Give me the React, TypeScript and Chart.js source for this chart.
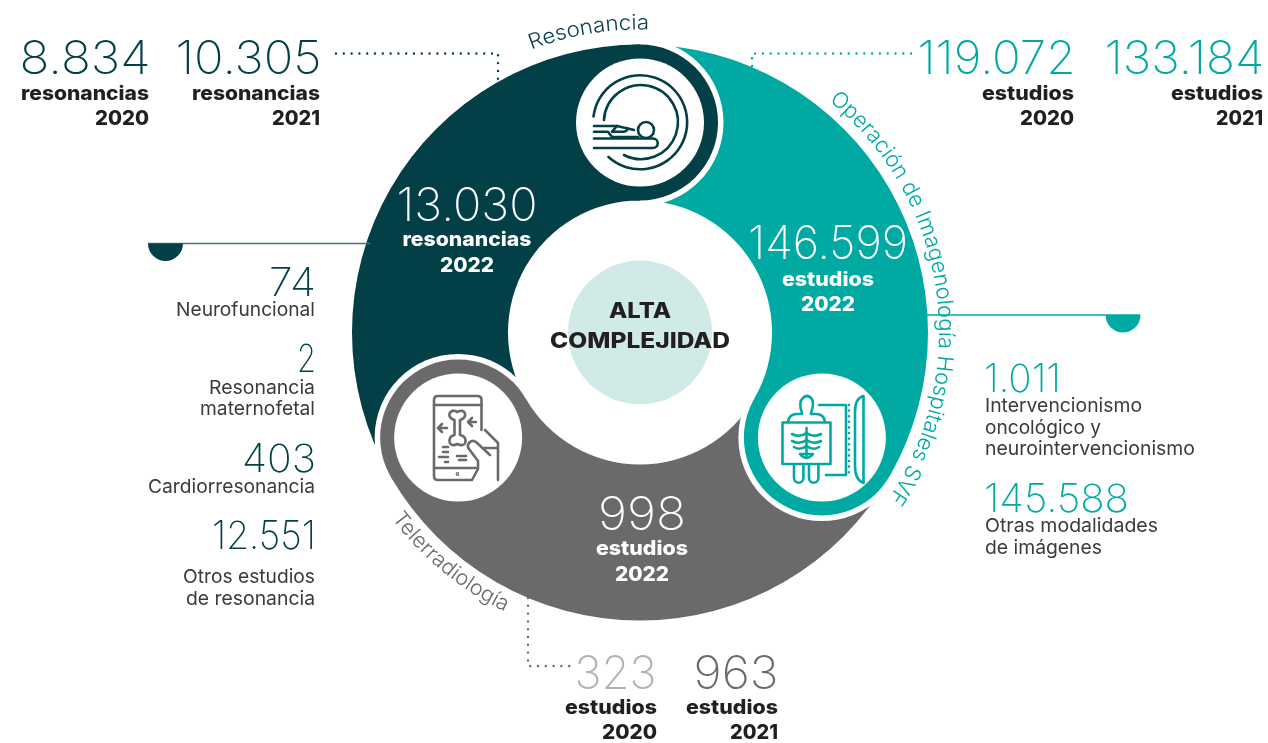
import React, { useEffect, useRef } from "react";
import { Chart, registerables } from "chart.js";

Chart.register(...registerables);

const segmentLabels = ["Resonancia", "Operación de Imagenología Hospitales SVF", "Telerradiología"];
const segmentShare = [1, 1, 1];
const centerTitle = ["ALTA", "COMPLEJIDAD"];
const years = ["2020", "2021", "2022"];
const resonanceTotals = [8834, 10305, 13030];
const imagingTotals = [119072, 133184, 146599];
const teleTotals = [323, 963, 998];
const resonanceNames = ["Neurofuncional", "Resonancia|maternofetal", "Cardiorresonancia", "Otros estudios|de resonancia"];
const resonanceValues = [74, 2, 403, 12551];
const imagingNames = ["Intervencionismo|oncológico y|neurointervencionismo", "Otras modalidades|de imágenes"];
const imagingValues = [1011, 145588];
const unitResonance = "resonancias";
const unitStudies = "estudios";

const DARK = "#023f47";
const TEAL = "#00aaa3";
const GRAY = "#6b696c";
const LIGHTGRAY = "#b2b0b2";
const PALE = "#d0eae8";
const INK = "#231f20";
const BODY = "#3c3a3b";
const FONT = "Inter, 'Noto Sans', sans-serif";

const fmt = (n: number) => String(n).replace(/\B(?=(\d{3})+$)/g, ".");

function polar(r: number, deg: number) {
  const a = (deg * Math.PI) / 180;
  return { x: 640 + r * Math.sin(a), y: 332.5 - r * Math.cos(a) };
}
function arcPath(r: number, from: number, to: number) {
  const p = polar(r, from);
  const q = polar(r, to);
  return `M${p.x} ${p.y} A${r} ${r} 0 0 ${to > from ? 1 : 0} ${q.x} ${q.y}`;
}

const headsPlugin = {
  id: "heads",
  afterDatasetsDraw(chart: any) {
    const ctx = chart.ctx as CanvasRenderingContext2D;
    const arcs = chart.getDatasetMeta(0).data as any[];
    const colors = chart.data.datasets[0].backgroundColor as string[];
    const { x, y, innerRadius, outerRadius } = arcs[0];
    const hr = (outerRadius - innerRadius) / 2;
    const mid = (outerRadius + innerRadius) / 2;
    ctx.save();
    ctx.fillStyle = PALE;
    ctx.beginPath();
    ctx.arc(x, y, 72, 0, Math.PI * 2);
    ctx.fill();
    arcs.forEach((a, i) => {
      const end = a.endAngle;
      const hx = x + mid * Math.cos(end);
      const hy = y + mid * Math.sin(end);
      ctx.save();
      ctx.beginPath();
      ctx.moveTo(x, y);
      ctx.arc(x, y, outerRadius + 2, end, end + (Math.PI * 2) / 3);
      ctx.closePath();
      ctx.clip();
      ctx.fillStyle = "#ffffff";
      ctx.beginPath();
      ctx.arc(hx, hy, hr + 5.5, 0, Math.PI * 2);
      ctx.fill();
      ctx.restore();
      ctx.fillStyle = colors[i];
      ctx.beginPath();
      ctx.arc(hx, hy, hr, 0, Math.PI * 2);
      ctx.fill();
      ctx.fillStyle = "#ffffff";
      ctx.beginPath();
      ctx.arc(hx, hy, hr - 14, 0, Math.PI * 2);
      ctx.fill();
    });
    ctx.restore();
  },
};

type TProps = { x: number; y: number; s: number; w?: number; c: string; wt?: number; a?: "start" | "middle" | "end"; children: string };
function T({ x, y, s, w, c, wt = 400, a = "end", children }: TProps) {
  return (
    <text x={x} y={y} fontSize={s} fill={c} fontWeight={wt} textAnchor={a} fontFamily={FONT}
      {...(w ? { textLength: w, lengthAdjust: "spacingAndGlyphs" } : {})}>
      {children}
    </text>
  );
}

function Curved({ id, d, s, c, w, children }: { id: string; d: string; s: number; c: string; w: number; children: string }) {
  return (
    <>
      <path id={id} d={d} fill="none" />
      <text fontSize={s} fill={c} fontWeight={300} fontFamily={FONT} textLength={w} lengthAdjust="spacingAndGlyphs">
        <textPath href={`#${id}`} textLength={w} lengthAdjust="spacingAndGlyphs">{children}</textPath>
      </text>
    </>
  );
}

function Column({ x, num, unit, year, color, nw, uw, yw, bw = 0, nb = 74 }: any) {
  return (
    <>
      <T x={x + 1.5} y={nb + bw} s={46} w={nw} c={color} wt={200}>{num}</T>
      <T x={x} y={99.5 + bw} s={20} w={uw} c={INK} wt={800}>{unit}</T>
      <T x={x} y={125 + bw} s={20} w={yw} c={INK} wt={800}>{year}</T>
    </>
  );
}

function Icons() {
  const sw = 2.6;
  return (
    <>
      <g fill="none" stroke={DARK} strokeWidth={sw} strokeLinecap="round" strokeLinejoin="round">
        <path d="M593.5 116.5 A47 47 0 1 1 608.5 157" />
        <path d="M604 120 A37 37 0 1 1 624 155" />
        <circle cx={646} cy={130} r={8} />
        <path d="M594 126 H617 L634 130" />
        <path d="M594 131.7 H608 L612 137 H638" />
        <path d="M617 126 L612 131.7 H624 Q628 131 627 128" />
        <path d="M594 138.5 H653 A4.7 4.7 0 0 1 653 148 H594" />
      </g>
      <g fill="none" stroke={TEAL} strokeWidth={sw} strokeLinecap="round" strokeLinejoin="round">
        <path d="M802 413 Q798 402 803 398 Q807 394 811 398 Q815 402 811 413" />
        <path d="M788 422 Q789 414 797 414 H802 M811 414 H816 Q824 414 825 422" />
        <rect x={782.5} y={422.5} width={48} height={41.5} />
        <path d="M806.5 428 V456" />
        <path d="M792 434 Q800 438 806.5 433 Q813 438 821 434" />
        <path d="M792 441 Q800 445 806.5 440 Q813 445 821 441" />
        <path d="M794 447 Q800 451 806.5 446 Q813 451 819 447" />
        <path d="M800 454 Q806.5 462 813 454 Z" />
        <path d="M794 465 V478 a4.7 4.7 0 0 0 9.4 0 V465 M809 465 V478 a4.7 4.7 0 0 0 9.4 0 V465" />
        <path d="M819 405 H846 V475 H826" />
        <path d="M849 405 V476" strokeDasharray="0 5.6" />
        <path d="M863.5 396 Q855 398 855 412 V466 Q855 480 863.5 483 Z" />
      </g>
      <g fill="none" stroke={GRAY} strokeWidth={sw} strokeLinecap="round" strokeLinejoin="round">
        <path d="M481.5 430 V400 Q481.5 396 477.5 396 H438 Q434 396 434 400 V476 Q434 480 438 480 H472" />
        <path d="M434 405 H481.5 M434 468 H476" />
        <path d="M485 430 L498 443 V480" />
        <path d="M490 455 L476 442 a5 5 0 0 0 -7 7 L478 461 V469 L472 480" />
        <path d="M484 448 H497" />
        <path d="M454.5 420 V435 Q449 436 449.5 442 Q451 447 457.3 444 Q464 447 465.5 442 Q466 436 460 435 V420 Q466 418 465 413.5 Q463 409 457.3 412 Q452 409 449.5 413.5 Q448.5 418 454.5 420 Z" />
        <path d="M447 428 H438 M442 424 L438 428 L442 432" />
        <path d="M476 422 H468 M472 418 L468 422 L472 426" />
        <path d="M443 447 H448 M443 452 H448 M439 457 H448 M445 462 H448 M457 456 H466 M459 460 H466" />
        <circle cx={457.5} cy={474} r={0.6} />
      </g>
    </>
  );
}

export default function App() {
  const ref = useRef<HTMLCanvasElement>(null);
  useEffect(() => {
    const chart = new Chart(ref.current!, {
      type: "doughnut",
      data: {
        labels: segmentLabels,
        datasets: [{ data: segmentShare, backgroundColor: [DARK, TEAL, GRAY], borderWidth: 0, hoverOffset: 0 }],
      },
      options: {
        responsive: false,
        animation: false,
        rotation: 240,
        cutout: 132,
        radius: 288,
        layout: { padding: { left: 352, right: 340, top: 44.5, bottom: 122.5 } },
        plugins: { legend: { display: false }, tooltip: { enabled: false } },
      },
      plugins: [headsPlugin],
    } as any);
    return () => chart.destroy();
  }, []);

  const resY = [[295.5, [315.5]], [372, [393.5, 414.5]], [472, [492.5]], [549, [582.5, 604.5]]] as [number, number[]][];
  const resW = [47, 19, 74, 104];
  const resNameW = [[139], [106, 115], [167], [132, 129]];
  const imgY = [[392, [411.5, 433.5, 454.5]], [511.5, [531.5, 553.5]]] as [number, number[]][];
  const imgW = [75, 143];
  const imgNameW = [[157, 116, 210], [173, 117]];

  return (
    <div style={{ position: "fixed", left: 0, top: 0, width: 1268, height: 743, background: "#fff" }}>
      <canvas ref={ref} width={1268} height={743} style={{ position: "absolute", left: 0, top: 0 }} />
      <svg width={1268} height={743} style={{ position: "absolute", left: 0, top: 0 }}>
        <Icons />
        <path d="M336 53.5 H498 V80" fill="none" stroke={DARK} strokeWidth={2.4} strokeLinecap="round" strokeDasharray="0 7.8" />
        <path d="M752 66 V53.5 H916" fill="none" stroke={TEAL} strokeWidth={2.4} strokeLinecap="round" strokeDasharray="0 7.8" />
        <path d="M528 598 V666 H570" fill="none" stroke={GRAY} strokeWidth={2.4} strokeLinecap="round" strokeDasharray="0 7.8" />
        <path d="M148 243.5 H370" stroke="#4d7379" strokeWidth={1.6} fill="none" />
        <path d="M148 243.5 A17.5 17.5 0 0 0 183 243.5 Z" fill={DARK} />
        <path d="M927 315 H1140" stroke={TEAL} strokeWidth={1.4} fill="none" />
        <path d="M1105.5 315 A17.5 17.5 0 0 0 1140.5 315 Z" fill={TEAL} />

        <Column x={149} num={fmt(resonanceTotals[0])} unit={unitResonance} year={years[0]} color={DARK} nw={131} uw={128} yw={54} />
        <Column x={320} num={fmt(resonanceTotals[1])} unit={unitResonance} year={years[1]} color={DARK} nw={146} uw={128} yw={48} />
        <Column x={1074} num={fmt(imagingTotals[0])} unit={unitStudies} year={years[0]} color={TEAL} nw={158} uw={92} yw={54} />
        <Column x={1263} num={fmt(imagingTotals[1])} unit={unitStudies} year={years[1]} color={TEAL} nw={160} uw={92} yw={47} />
        <Column x={655} num={fmt(teleTotals[0])} unit="" year="" color={LIGHTGRAY} nw={82} uw={0} yw={0} bw={615} />
        <Column x={777} num={fmt(teleTotals[1])} unit="" year="" color={GRAY} nw={85} uw={0} yw={0} bw={615} />
        <T x={657} y={713.5} s={20} w={92} c={INK} wt={800}>{unitStudies}</T>
        <T x={657} y={739} s={20} w={55} c={INK} wt={800}>{years[0]}</T>
        <T x={778} y={713.5} s={20} w={92} c={INK} wt={800}>{unitStudies}</T>
        <T x={778} y={739} s={20} w={48} c={INK} wt={800}>{years[1]}</T>

        <T x={467} y={220.5} s={46} w={141} c="#fff" wt={200} a="middle">{fmt(resonanceTotals[2])}</T>
        <T x={467} y={246} s={20} w={129} c="#fff" wt={800} a="middle">{unitResonance}</T>
        <T x={467} y={271.5} s={20} w={54} c="#fff" wt={800} a="middle">{years[2]}</T>
        <T x={828} y={259} s={46} w={160} c="#fff" wt={200} a="middle">{fmt(imagingTotals[2])}</T>
        <T x={828} y={285.5} s={20} w={92} c="#fff" wt={800} a="middle">{unitStudies}</T>
        <T x={828} y={310.5} s={20} w={54} c="#fff" wt={800} a="middle">{years[2]}</T>
        <T x={642} y={529.5} s={46} w={88} c="#fff" wt={200} a="middle">{fmt(teleTotals[2])}</T>
        <T x={642} y={554.5} s={20} w={92} c="#fff" wt={800} a="middle">{unitStudies}</T>
        <T x={642} y={580.5} s={20} w={54} c="#fff" wt={800} a="middle">{years[2]}</T>

        <T x={640} y={318} s={21} w={62} c={INK} wt={800} a="middle">{centerTitle[0]}</T>
        <T x={640} y={348} s={21} w={180} c={INK} wt={800} a="middle">{centerTitle[1]}</T>

        {resonanceValues.map((v, i) => (
          <React.Fragment key={i}>
            <T x={316} y={resY[i][0]} s={39} w={resW[i]} c={DARK} wt={200}>{fmt(v)}</T>
            {resonanceNames[i].split("|").map((l, j) => (
              <T key={j} x={315} y={resY[i][1][j]} s={19} w={resNameW[i][j]} c={BODY} wt={400}>{l}</T>
            ))}
          </React.Fragment>
        ))}
        {imagingValues.map((v, i) => (
          <React.Fragment key={i}>
            <T x={984} y={imgY[i][0]} s={39} w={imgW[i] + 2} c={TEAL} wt={200} a="start">{fmt(v)}</T>
            {imagingNames[i].split("|").map((l, j) => (
              <T key={j} x={985} y={imgY[i][1][j]} s={19} w={imgNameW[i][j]} c={BODY} wt={400} a="start">{l}</T>
            ))}
          </React.Fragment>
        ))}

        <Curved id="c1" d={arcPath(303, -21, 4)} s={21} c={DARK} w={120}>{segmentLabels[0]}</Curved>
        <Curved id="c2" d={arcPath(299, 39.2, 128)} s={22} c={TEAL} w={442}>{segmentLabels[1]}</Curved>
        <Curved id="c3" d={arcPath(310, 233.2, 200)} s={21} c={GRAY} w={148}>{segmentLabels[2]}</Curved>
      </svg>
    </div>
  );
}
